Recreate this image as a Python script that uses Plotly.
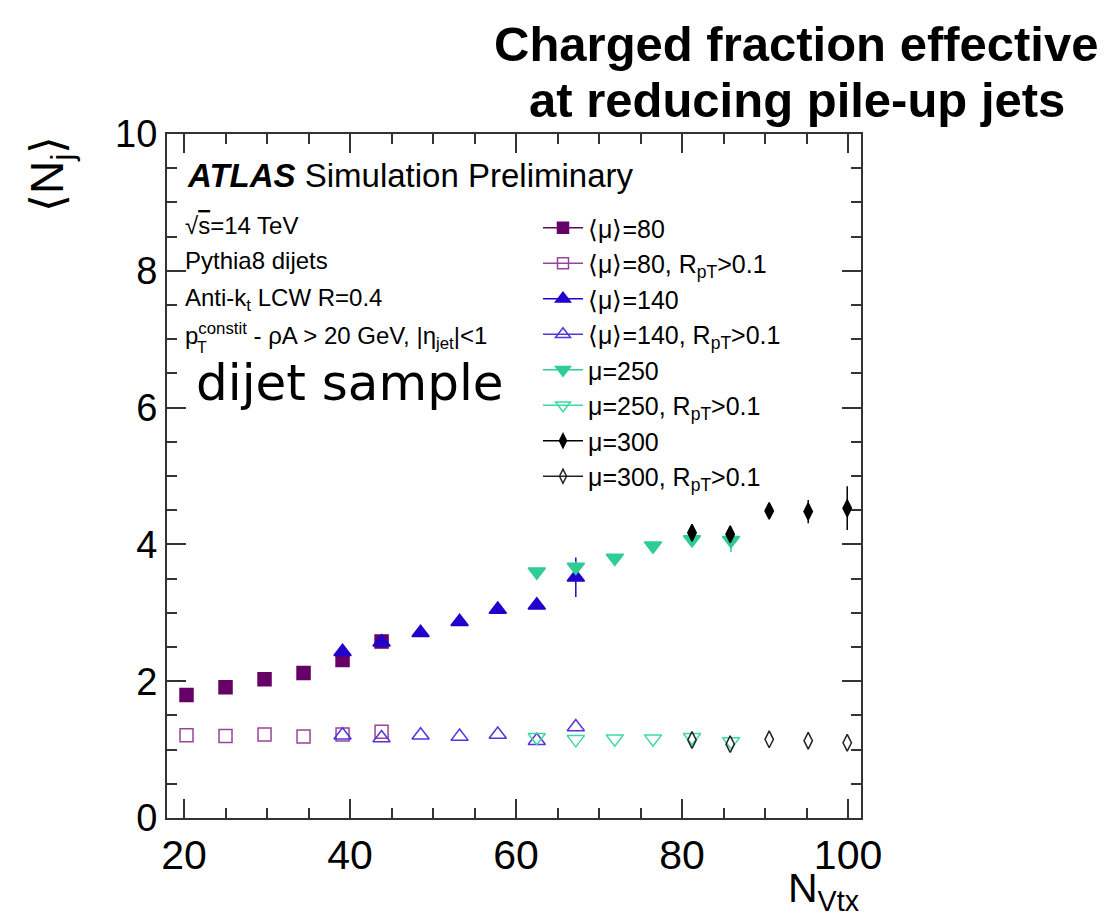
import plotly.graph_objects as go

# ---------------- data ----------------
nvtx_mu80 = [20.3, 25.0, 29.7, 34.4, 39.1, 43.8]
nj_mu80 = [1.80, 1.91, 2.03, 2.12, 2.31, 2.58]
err_mu80 = [0.03, 0.03, 0.03, 0.03, 0.04, 0.05]
nj_mu80_rpt = [1.21, 1.20, 1.22, 1.19, 1.22, 1.26]
err_mu80_rpt = [0, 0, 0, 0, 0, 0]

nvtx_mu140 = [39.1, 43.8, 48.5, 53.2, 57.8, 62.5, 67.2]
nj_mu140 = [2.43, 2.57, 2.71, 2.87, 3.05, 3.11, 3.52]
err_mu140 = [0.03, 0.03, 0.03, 0.03, 0.04, 0.05, 0.29]
nj_mu140_rpt = [1.21, 1.17, 1.21, 1.19, 1.22, 1.13, 1.33]
err_mu140_rpt = [0, 0, 0, 0, 0, 0, 0]

nvtx_mu250 = [62.5, 67.2, 71.9, 76.5, 81.2, 85.9]
nj_mu250 = [3.60, 3.67, 3.80, 3.98, 4.07, 4.06]
err_mu250 = [0.04, 0.08, 0.04, 0.04, 0.08, 0.17]
nj_mu250_rpt = [1.18, 1.15, 1.16, 1.16, 1.18, 1.12]
err_mu250_rpt = [0, 0, 0, 0, 0, 0]

nvtx_mu300 = [81.2, 85.8, 90.5, 95.2, 99.9]
nj_mu300 = [4.17, 4.15, 4.49, 4.48, 4.53]
err_mu300 = [0.05, 0.05, 0.05, 0.17, 0.32]
nj_mu300_rpt = [1.14, 1.08, 1.15, 1.13, 1.10]
err_mu300_rpt = [0, 0, 0, 0, 0]

legend_labels = [
    "⟨μ⟩=80", "⟨μ⟩=80, R<sub>pT</sub>>0.1",
    "⟨μ⟩=140", "⟨μ⟩=140, R<sub>pT</sub>>0.1",
    "μ=250", "μ=250, R<sub>pT</sub>>0.1",
    "μ=300", "μ=300, R<sub>pT</sub>>0.1",
]

x_ticks = [20, 40, 60, 80, 100]
y_ticks = [0, 2, 4, 6, 8, 10]

# ---------------- styles ----------------
PURPLE = "#660066"
PURPLE_O = "#994499"
BLUE = "#2200cc"
BLUE_O = "#5533dd"
GREEN = "#2ecc96"
GREEN_O = "#3dd9a4"
BLACK = "#000000"
BLACK_O = "#222222"

series = [
    (nvtx_mu80, nj_mu80, err_mu80, "square", 13, PURPLE, legend_labels[0]),
    (nvtx_mu80, nj_mu80_rpt, err_mu80_rpt, "square-open", 13, PURPLE_O, legend_labels[1]),
    (nvtx_mu140, nj_mu140, err_mu140, "triangle-up", 15, BLUE, legend_labels[2]),
    (nvtx_mu140, nj_mu140_rpt, err_mu140_rpt, "triangle-up-open", 15, BLUE_O, legend_labels[3]),
    (nvtx_mu250, nj_mu250, err_mu250, "triangle-down", 15, GREEN, legend_labels[4]),
    (nvtx_mu250, nj_mu250_rpt, err_mu250_rpt, "triangle-down-open", 15, GREEN_O, legend_labels[5]),
    (nvtx_mu300, nj_mu300, err_mu300, "diamond-tall", 12, BLACK, legend_labels[6]),
    (nvtx_mu300, nj_mu300_rpt, err_mu300_rpt, "diamond-tall-open", 12, BLACK_O, legend_labels[7]),
]

fig = go.Figure()

# data traces
for xs, ys, es, sym, sz, col, name in series:
    fig.add_trace(go.Scatter(
        x=xs, y=ys, mode="markers", showlegend=False,
        marker=dict(symbol=sym, size=sz, color=col, line=dict(color=col, width=1.5)),
        error_y=dict(type="data", array=es, visible=any(e > 0 for e in es), width=0, thickness=1.5, color=col),
    ))

# legend entries (line + marker, ROOT style)
for xs, ys, es, sym, sz, col, name in series:
    fig.add_trace(go.Scatter(
        x=[None], y=[None], mode="lines+markers", name=name, showlegend=True,
        marker=dict(symbol=sym, size=max(sz - 2, 9), color=col, line=dict(color=col, width=1.5)),
        line=dict(color=col, width=1.5),
    ))

FONT = "Liberation Sans, Arial, Helvetica, sans-serif"
OFF = 8  # page body margin
FW, FH = 1107, 919
# plot frame in screen pixels
L, R, T, B = 167, 861, 134, 818
W = R - L
H = B - T


def px(x):
    return (x - L) / W


def py(y):
    return (B - y) / H


TITLE_FONT = dict(family="Liberation Sans, Arial, sans-serif", size=49, color="black")
annotations = [
    dict(text="<b>Charged fraction effective</b>", x=px(796), y=py(44), xanchor="center", yanchor="middle",
         font=TITLE_FONT),
    dict(text="<b>at reducing pile-up jets</b>", x=px(797), y=py(100), xanchor="center", yanchor="middle",
         font=TITLE_FONT),
    dict(text="<b><i>ATLAS</i></b> Simulation Preliminary", x=px(185), y=py(176), xanchor="left", yanchor="middle",
         font=dict(family=FONT, size=33, color="black")),
    dict(text="√<span style='text-decoration:overline'>s</span>=14 TeV", x=px(183), y=py(225), xanchor="left",
         yanchor="middle", font=dict(family=FONT, size=24, color="black")),
    dict(text="Pythia8 dijets", x=px(183), y=py(260), xanchor="left", yanchor="middle",
         font=dict(family=FONT, size=24, color="black")),
    dict(text="Anti-k<sub>t</sub> LCW R=0.4", x=px(183), y=py(299), xanchor="left", yanchor="middle",
         font=dict(family=FONT, size=24, color="black")),
    dict(text="p<sup>constit</sup> - ρA > 20 GeV, |η<sub>jet</sub>|<1", x=px(183), y=py(336), xanchor="left",
         yanchor="middle", font=dict(family=FONT, size=24, color="black")),
    dict(text="T", x=px(195), y=py(347), xanchor="left", yanchor="middle",
         font=dict(family=FONT, size=16, color="black")),
    dict(text="dijet sample", x=px(194), y=py(383), xanchor="left", yanchor="middle",
         font=dict(family="DejaVu Sans, Verdana, sans-serif", size=50, color="black")),
    dict(text="⟨N<sub>j</sub>⟩", x=px(50), y=py(174), xanchor="center", yanchor="middle", textangle=-90,
         font=dict(family=FONT, size=46, color="black")),
    dict(text="N<sub>Vtx</sub>", x=px(862), y=py(891), xanchor="right", yanchor="middle",
         font=dict(family=FONT, size=41, color="black")),
]
for a in annotations:
    a.update(xref="paper", yref="paper", showarrow=False)

AXC = "#333333"
fig.update_layout(
    width=FW, height=FH,
    margin=dict(l=L - OFF, r=FW - (R - OFF), t=T - OFF, b=FH - (B - OFF), pad=0),
    paper_bgcolor="white", plot_bgcolor="white",
    font=dict(family=FONT, color="black"),
    showlegend=True,
    legend=dict(x=px(538), y=py(205), xanchor="left", yanchor="top",
                font=dict(family=FONT, size=25, color="black"),
                bgcolor="rgba(0,0,0,0)", borderwidth=0, itemwidth=40, tracegroupgap=0,
                itemclick=False),
    annotations=annotations,
    xaxis=dict(range=[17.95, 101.56], tickmode="array", tickvals=x_ticks, ticktext=[str(v) for v in x_ticks],
               ticks="inside", ticklen=19, tickwidth=1.5, tickcolor=AXC,
               showline=True, linecolor=AXC, linewidth=2, mirror="ticks",
               showgrid=False, zeroline=False,
               tickfont=dict(family=FONT, size=41, color="black"),
               minor=dict(dtick=5, tick0=20, ticks="inside", ticklen=10, tickwidth=1.5, tickcolor=AXC, showgrid=False)),
    yaxis=dict(range=[0, 10], tickmode="array", tickvals=y_ticks, ticktext=[str(v) for v in y_ticks],
               ticks="inside", ticklen=19, tickwidth=1.5, tickcolor=AXC,
               showline=True, linecolor=AXC, linewidth=2, mirror="ticks",
               showgrid=False, zeroline=False,
               tickfont=dict(family=FONT, size=38, color="black"),
               minor=dict(dtick=0.5, tick0=0, ticks="inside", ticklen=10, tickwidth=1.5, tickcolor=AXC, showgrid=False)),
)

fig.write_html("out.html")
